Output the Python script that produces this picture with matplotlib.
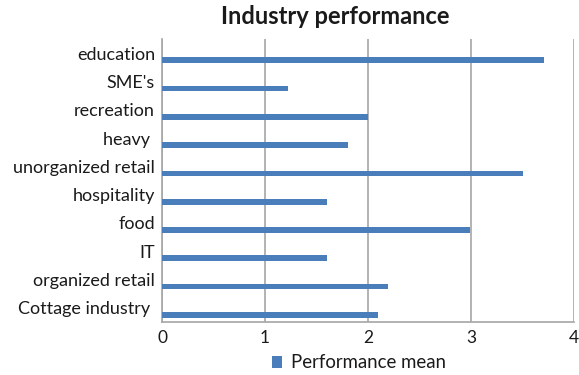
import matplotlib
matplotlib.use("Agg")
import matplotlib.pyplot as plt
import numpy as np

categories = ["Cottage industry ", "organized retail", "IT", "food", "hospitality",
              "unorganized retail", "heavy ", "recreation", "SME's", "education"]
values = [2.1, 2.19, 1.6, 2.99, 1.6, 3.5, 1.81, 2.0, 1.22, 3.71]
xticks = [0, 1, 2, 3, 4]

plt.rcParams['font.family'] = ['Lato', 'DejaVu Sans']

fig = plt.figure(figsize=(5.79, 3.75), dpi=100)
ax = fig.add_axes([162/579, 1 - 322/375, (574-162)/579, (322-39)/375])

y = np.arange(len(categories))
ax.barh(y - 0.25, values, height=0.2, color="#4a7ebb", label="Performance mean", zorder=3)

ax.set_xlim(0, 4)
ax.set_ylim(-0.5, len(categories) - 0.5)
ax.set_xticks(xticks)
ax.set_xticklabels([str(t) for t in xticks], fontsize=12.5, color="#1a1a1a")
ax.set_yticks(y)
ax.set_yticklabels(categories, fontsize=13, color="#1a1a1a")
ax.tick_params(axis='both', length=0, pad=6)
ax.tick_params(axis='y', pad=5)
ax.xaxis.grid(True, color="#a6a6a6", linewidth=1.2, zorder=0)
for s in ["top", "right"]:
    ax.spines[s].set_visible(False)
for s in ["left", "bottom"]:
    ax.spines[s].set_color("#a6a6a6")
    ax.spines[s].set_linewidth(1.2)

fig.text(335/579, 1 - 17/375, "Industry performance", ha="center", va="center",
         fontsize=17, fontweight="bold", color="#1a1a1a")

leg = fig.legend(loc="center", bbox_to_anchor=(359/579, 1 - 363/375), frameon=False,
                 fontsize=13.4, handlelength=0.55, handleheight=0.55, handletextpad=0.5,
                 labelcolor="#1a1a1a")

fig.savefig("out.png", dpi=100)
